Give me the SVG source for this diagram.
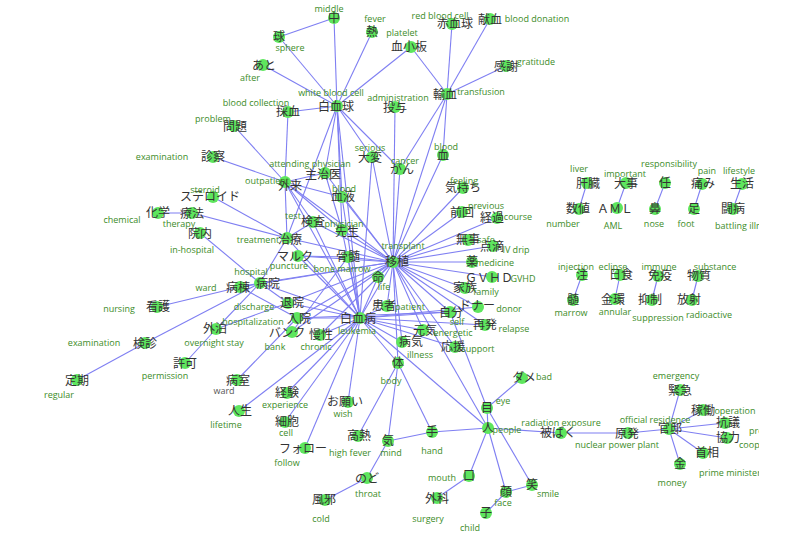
<svg xmlns="http://www.w3.org/2000/svg" width="800" height="540" viewBox="0 0 800 540">
<style>
.e line{stroke:#7f7ff2;stroke-width:1.1}
.n circle{fill:#5ee65e}
.j{font-family:"Noto Sans CJK JP","Noto Sans CJK SC",sans-serif;font-size:12px;fill:#333;text-anchor:middle}
.l{font-family:"Open Sans","Liberation Sans",sans-serif;font-size:9px;fill:#3c8c28;text-anchor:middle}
.s{text-anchor:start}
.g{fill:#555}
</style>
<defs><clipPath id="cp"><rect x="0" y="0" width="759" height="540"/></clipPath></defs>
<rect width="800" height="540" fill="#fff"/>
<g clip-path="url(#cp)">
<g id="edges" class="e">
<line x1="334" y1="18" x2="279" y2="37"/>
<line x1="334" y1="18" x2="337" y2="106"/>
<line x1="279" y1="37" x2="337" y2="106"/>
<line x1="263" y1="65" x2="337" y2="106"/>
<line x1="372" y1="32" x2="337" y2="106"/>
<line x1="411" y1="47" x2="337" y2="106"/>
<line x1="411" y1="47" x2="447" y2="94"/>
<line x1="452" y1="24" x2="447" y2="94"/>
<line x1="490" y1="19" x2="447" y2="94"/>
<line x1="506" y1="66" x2="447" y2="94"/>
<line x1="288" y1="112" x2="337" y2="106"/>
<line x1="288" y1="112" x2="285" y2="182"/>
<line x1="234" y1="126" x2="285" y2="182"/>
<line x1="213" y1="157" x2="285" y2="182"/>
<line x1="337" y1="106" x2="325" y2="173"/>
<line x1="337" y1="106" x2="287" y2="238"/>
<line x1="337" y1="106" x2="342" y2="197"/>
<line x1="337" y1="106" x2="342" y2="230"/>
<line x1="337" y1="106" x2="372" y2="157"/>
<line x1="337" y1="106" x2="400" y2="169"/>
<line x1="337" y1="106" x2="360" y2="318"/>
<line x1="447" y1="94" x2="443" y2="155"/>
<line x1="447" y1="94" x2="400" y2="169"/>
<line x1="447" y1="94" x2="393" y2="262"/>
<line x1="443" y1="155" x2="393" y2="262"/>
<line x1="395" y1="107" x2="393" y2="262"/>
<line x1="372" y1="157" x2="393" y2="262"/>
<line x1="372" y1="157" x2="360" y2="318"/>
<line x1="400" y1="169" x2="393" y2="262"/>
<line x1="325" y1="173" x2="393" y2="262"/>
<line x1="325" y1="173" x2="342" y2="230"/>
<line x1="285" y1="182" x2="325" y2="173"/>
<line x1="285" y1="182" x2="342" y2="197"/>
<line x1="285" y1="182" x2="313" y2="222"/>
<line x1="285" y1="182" x2="287" y2="238"/>
<line x1="285" y1="182" x2="342" y2="230"/>
<line x1="285" y1="182" x2="393" y2="262"/>
<line x1="285" y1="182" x2="360" y2="318"/>
<line x1="342" y1="197" x2="393" y2="262"/>
<line x1="342" y1="197" x2="360" y2="318"/>
<line x1="313" y1="222" x2="393" y2="262"/>
<line x1="313" y1="222" x2="360" y2="318"/>
<line x1="313" y1="222" x2="287" y2="238"/>
<line x1="342" y1="230" x2="393" y2="262"/>
<line x1="342" y1="230" x2="360" y2="318"/>
<line x1="213" y1="197" x2="287" y2="238"/>
<line x1="158" y1="213" x2="192" y2="213"/>
<line x1="192" y1="213" x2="287" y2="238"/>
<line x1="200" y1="233" x2="260" y2="283"/>
<line x1="287" y1="238" x2="393" y2="262"/>
<line x1="287" y1="238" x2="360" y2="318"/>
<line x1="287" y1="238" x2="260" y2="283"/>
<line x1="298" y1="256" x2="348" y2="257"/>
<line x1="298" y1="256" x2="393" y2="262"/>
<line x1="298" y1="256" x2="360" y2="318"/>
<line x1="348" y1="257" x2="393" y2="262"/>
<line x1="348" y1="257" x2="360" y2="318"/>
<line x1="348" y1="257" x2="292" y2="332"/>
<line x1="260" y1="283" x2="393" y2="262"/>
<line x1="260" y1="283" x2="360" y2="318"/>
<line x1="260" y1="283" x2="240" y2="287"/>
<line x1="260" y1="283" x2="288" y2="303"/>
<line x1="240" y1="287" x2="157" y2="307"/>
<line x1="240" y1="287" x2="297" y2="318"/>
<line x1="240" y1="287" x2="393" y2="262"/>
<line x1="145" y1="343" x2="260" y2="283"/>
<line x1="77" y1="380" x2="145" y2="343"/>
<line x1="185" y1="363" x2="216" y2="329"/>
<line x1="216" y1="329" x2="288" y2="303"/>
<line x1="216" y1="329" x2="260" y2="283"/>
<line x1="288" y1="303" x2="360" y2="318"/>
<line x1="288" y1="303" x2="393" y2="262"/>
<line x1="297" y1="318" x2="360" y2="318"/>
<line x1="297" y1="318" x2="393" y2="262"/>
<line x1="297" y1="318" x2="450" y2="312"/>
<line x1="237" y1="380" x2="297" y2="318"/>
<line x1="292" y1="332" x2="393" y2="262"/>
<line x1="320" y1="335" x2="360" y2="318"/>
<line x1="320" y1="335" x2="393" y2="262"/>
<line x1="378" y1="277" x2="393" y2="262"/>
<line x1="378" y1="277" x2="360" y2="318"/>
<line x1="387" y1="306" x2="393" y2="262"/>
<line x1="387" y1="306" x2="360" y2="318"/>
<line x1="360" y1="318" x2="393" y2="262"/>
<line x1="393" y1="262" x2="463" y2="188"/>
<line x1="393" y1="262" x2="462" y2="212"/>
<line x1="393" y1="262" x2="497" y2="218"/>
<line x1="393" y1="262" x2="468" y2="240"/>
<line x1="393" y1="262" x2="493" y2="246"/>
<line x1="393" y1="262" x2="472" y2="262"/>
<line x1="393" y1="262" x2="492" y2="277"/>
<line x1="393" y1="262" x2="465" y2="288"/>
<line x1="393" y1="262" x2="478" y2="307"/>
<line x1="393" y1="262" x2="450" y2="312"/>
<line x1="393" y1="262" x2="485" y2="325"/>
<line x1="393" y1="262" x2="423" y2="330"/>
<line x1="393" y1="262" x2="402" y2="342"/>
<line x1="393" y1="262" x2="455" y2="347"/>
<line x1="393" y1="262" x2="398" y2="363"/>
<line x1="393" y1="262" x2="488" y2="428"/>
<line x1="360" y1="318" x2="450" y2="312"/>
<line x1="360" y1="318" x2="478" y2="307"/>
<line x1="360" y1="318" x2="485" y2="325"/>
<line x1="360" y1="318" x2="423" y2="330"/>
<line x1="360" y1="318" x2="402" y2="342"/>
<line x1="360" y1="318" x2="455" y2="347"/>
<line x1="360" y1="318" x2="398" y2="363"/>
<line x1="360" y1="318" x2="488" y2="428"/>
<line x1="450" y1="312" x2="487" y2="408"/>
<line x1="360" y1="318" x2="239" y2="411"/>
<line x1="360" y1="318" x2="287" y2="393"/>
<line x1="360" y1="318" x2="285" y2="422"/>
<line x1="360" y1="318" x2="305" y2="448"/>
<line x1="360" y1="318" x2="348" y2="402"/>
<line x1="398" y1="363" x2="358" y2="436"/>
<line x1="398" y1="363" x2="388" y2="441"/>
<line x1="398" y1="363" x2="432" y2="432"/>
<line x1="388" y1="441" x2="432" y2="432"/>
<line x1="388" y1="441" x2="367" y2="478"/>
<line x1="367" y1="478" x2="325" y2="500"/>
<line x1="432" y1="432" x2="488" y2="428"/>
<line x1="488" y1="428" x2="487" y2="408"/>
<line x1="487" y1="408" x2="522" y2="378"/>
<line x1="487" y1="408" x2="532" y2="485"/>
<line x1="488" y1="428" x2="469" y2="476"/>
<line x1="469" y1="476" x2="437" y2="498"/>
<line x1="488" y1="428" x2="506" y2="492"/>
<line x1="506" y1="492" x2="532" y2="485"/>
<line x1="506" y1="492" x2="486" y2="513"/>
<line x1="488" y1="428" x2="561" y2="433"/>
<line x1="561" y1="433" x2="628" y2="433"/>
<line x1="628" y1="433" x2="669" y2="429"/>
<line x1="669" y1="429" x2="680" y2="390"/>
<line x1="669" y1="429" x2="703" y2="410"/>
<line x1="669" y1="429" x2="725" y2="423"/>
<line x1="669" y1="429" x2="727" y2="438"/>
<line x1="669" y1="429" x2="703" y2="453"/>
<line x1="669" y1="429" x2="680" y2="464"/>
<line x1="587" y1="183" x2="579" y2="209"/>
<line x1="626" y1="183" x2="617" y2="208"/>
<line x1="665" y1="183" x2="655" y2="209"/>
<line x1="702" y1="184" x2="694" y2="209"/>
<line x1="742" y1="184" x2="733" y2="209"/>
<line x1="582" y1="275" x2="573" y2="300"/>
<line x1="620" y1="275" x2="615" y2="299"/>
<line x1="658" y1="276" x2="652" y2="300"/>
<line x1="698" y1="276" x2="692" y2="300"/>
</g>
<g id="nodes" class="n">
<g id="n-naka"><circle cx="334" cy="18" r="6"/><text class="j" x="334" y="22">中</text><text class="l" x="329" y="12">middle</text></g>
<g id="n-netsu"><circle cx="372" cy="32" r="6"/><text class="j" x="372" y="36">熱</text><text class="l" x="375" y="22">fever</text></g>
<g id="n-sekkekkyu"><circle cx="452" cy="24" r="6"/><text class="j" x="455" y="28">赤血球</text><text class="l" x="440" y="19">red blood cell</text></g>
<g id="n-kenketsu"><circle cx="490" cy="19" r="6"/><text class="j" x="490" y="24">献血</text><text class="l" x="537" y="22">blood donation</text></g>
<g id="n-kesshoban"><circle cx="411" cy="47" r="6"/><text class="j" x="409" y="51">血小板</text><text class="l" x="402" y="36">platelet</text></g>
<g id="n-kansha"><circle cx="506" cy="66" r="6"/><text class="j" x="506" y="71">感謝</text><text class="l" x="536" y="65">gratitude</text></g>
<g id="n-yuketsu"><circle cx="447" cy="94" r="6"/><text class="j" x="445" y="99">輸血</text><text class="l" x="481" y="95">transfusion</text></g>
<g id="n-hakkekkyu"><circle cx="337" cy="106" r="6"/><text class="j" x="336" y="111">白血球</text><text class="l" x="331" y="96">white blood cell</text></g>
<g id="n-toyo"><circle cx="395" cy="107" r="6"/><text class="j" x="395" y="112">投与</text><text class="l" x="398" y="101">administration</text></g>
<g id="n-taihen"><circle cx="372" cy="157" r="6"/><text class="j" x="370" y="162">大変</text><text class="l" x="370" y="151">serious</text></g>
<g id="n-gan"><circle cx="400" cy="169" r="6"/><text class="j" x="402" y="174">がん</text><text class="l" x="405" y="164">cancer</text></g>
<g id="n-chi"><circle cx="443" cy="155" r="6"/><text class="j" x="443" y="160">血</text><text class="l" x="446" y="150">blood</text></g>
<g id="n-kyu"><circle cx="279" cy="37" r="6"/><text class="j" x="279" y="41">球</text><text class="l" x="290" y="51">sphere</text></g>
<g id="n-ato"><circle cx="263" cy="65" r="6"/><text class="j" x="264" y="70">あと</text><text class="l" x="250" y="81">after</text></g>
<g id="n-saiketsu"><circle cx="288" cy="112" r="6"/><text class="j" x="288" y="116">採血</text><text class="l" x="256" y="106">blood collection</text></g>
<g id="n-mondai"><circle cx="234" cy="126" r="6"/><text class="j" x="235" y="131">問題</text><text class="l" x="213" y="122">problem</text></g>
<g id="n-shinsatsu"><circle cx="213" cy="157" r="6"/><text class="j" x="213" y="161">診察</text><text class="l" x="162" y="160">examination</text></g>
<g id="n-shujii"><circle cx="325" cy="173" r="6"/><text class="j" x="323" y="179">主治医</text><text class="l" x="310" y="167">attending physician</text></g>
<g id="n-gairai"><circle cx="285" cy="182" r="6"/><text class="j" x="290" y="190">外来</text><text class="l" x="267" y="184">outpatient</text></g>
<g id="n-ketsueki"><circle cx="342" cy="197" r="6"/><text class="j" x="343" y="201">血液</text><text class="l" x="344" y="192">blood</text></g>
<g id="n-steroid"><circle cx="213" cy="197" r="6"/><text class="j" x="210" y="201">ステロイド</text><text class="l" x="205" y="193">steroid</text></g>
<g id="n-kensa"><circle cx="313" cy="222" r="6"/><text class="j" x="313" y="226">検査</text><text class="l" x="293" y="219">test</text></g>
<g id="n-sensei"><circle cx="342" cy="230" r="6"/><text class="j" x="347" y="236">先生</text><text class="l" x="344" y="227">physician</text></g>
<g id="n-kagaku"><circle cx="158" cy="213" r="6"/><text class="j" x="158" y="217">化学</text><text class="l" x="122" y="223">chemical</text></g>
<g id="n-ryoho"><circle cx="192" cy="213" r="6"/><text class="j" x="192" y="218">療法</text><text class="l" x="179" y="227">therapy</text></g>
<g id="n-innai"><circle cx="200" cy="233" r="6"/><text class="j" x="200" y="238">院内</text><text class="l" x="192" y="253">in-hospital</text></g>
<g id="n-chiryo"><circle cx="287" cy="238" r="6"/><text class="j" x="290" y="244">治療</text><text class="l" x="258" y="243">treatment</text></g>
<g id="n-maruku"><circle cx="298" cy="256" r="6"/><text class="j" x="295" y="261">マルク</text><text class="l" x="289" y="269">puncture</text></g>
<g id="n-byoin"><circle cx="260" cy="283" r="6"/><text class="j" x="268" y="288">病院</text><text class="l" x="251" y="275">hospital</text></g>
<g id="n-byoto"><circle cx="240" cy="287" r="6"/><text class="j" x="238" y="292">病棟</text><text class="l" x="206" y="291">ward</text></g>
<g id="n-kango"><circle cx="157" cy="307" r="6"/><text class="j" x="158" y="311">看護</text><text class="l" x="119" y="312">nursing</text></g>
<g id="n-taiin"><circle cx="288" cy="303" r="6"/><text class="j" x="292" y="307">退院</text><text class="l" x="254" y="310">discharge</text></g>
<g id="n-nyuin"><circle cx="297" cy="318" r="6"/><text class="j" x="299" y="323">入院</text><text class="l" x="253" y="325">hospitalization</text></g>
<g id="n-gaihaku"><circle cx="216" cy="329" r="6"/><text class="j" x="215" y="333">外泊</text><text class="l" x="214" y="346">overnight stay</text></g>
<g id="n-banku"><circle cx="292" cy="332" r="6"/><text class="j" x="287" y="337">バンク</text><text class="l" x="275" y="350">bank</text></g>
<g id="n-mansei"><circle cx="320" cy="335" r="6"/><text class="j" x="321" y="339">慢性</text><text class="l" x="316" y="350">chronic</text></g>
<g id="n-kenshin"><circle cx="145" cy="343" r="6"/><text class="j" x="145" y="348">検診</text><text class="l" x="94" y="346">examination</text></g>
<g id="n-kyoka"><circle cx="185" cy="363" r="6"/><text class="j" x="185" y="368">許可</text><text class="l" x="165" y="379">permission</text></g>
<g id="n-teiki"><circle cx="77" cy="380" r="6"/><text class="j" x="77" y="385">定期</text><text class="l" x="59" y="398">regular</text></g>
<g id="n-byoshitsu"><circle cx="237" cy="380" r="6"/><text class="j" x="238" y="385">病室</text><text class="l g" x="224" y="394">ward</text></g>
<g id="n-jinsei"><circle cx="239" cy="411" r="6"/><text class="j" x="240" y="415">人生</text><text class="l" x="226" y="428">lifetime</text></g>
<g id="n-kotsuzui"><circle cx="348" cy="257" r="6"/><text class="j" x="348" y="261">骨髄</text><text class="l" x="342" y="272">bone marrow</text></g>
<g id="n-ishoku"><circle cx="393" cy="262" r="6"/><text class="j" x="397" y="266">移植</text><text class="l" x="403" y="249">transplant</text></g>
<g id="n-inochi"><circle cx="378" cy="277" r="6"/><text class="j" x="378" y="282">命</text><text class="l" x="384" y="290">life</text></g>
<g id="n-hakketsubyo"><circle cx="360" cy="318" r="6"/><text class="j" x="358" y="323">白血病</text><text class="l" x="357" y="334">leukemia</text></g>
<g id="n-kanja"><circle cx="387" cy="306" r="6"/><text class="j" x="384" y="310">患者</text><text class="l" x="410" y="310">patient</text></g>
<g id="n-genki"><circle cx="423" cy="330" r="6"/><text class="j" x="425" y="335">元気</text><text class="l" x="453" y="336">energetic</text></g>
<g id="n-byoki"><circle cx="402" cy="342" r="6"/><text class="j" x="411" y="346">病気</text><text class="l" x="420" y="358">illness</text></g>
<g id="n-oen"><circle cx="455" cy="347" r="6"/><text class="j" x="453" y="351">応援</text><text class="l" x="478" y="352">support</text></g>
<g id="n-karada"><circle cx="398" cy="363" r="6"/><text class="j" x="398" y="367">体</text><text class="l" x="391" y="384">body</text></g>
<g id="n-jibun"><circle cx="450" cy="312" r="6"/><text class="j" x="451" y="317">自分</text><text class="l" x="457" y="325">self</text></g>
<g id="n-donor"><circle cx="478" cy="307" r="6"/><text class="j" x="477" y="310">ドナー</text><text class="l" x="509" y="312">donor</text></g>
<g id="n-saihatsu"><circle cx="485" cy="325" r="6"/><text class="j" x="485" y="329">再発</text><text class="l" x="514" y="332">relapse</text></g>
<g id="n-kazoku"><circle cx="465" cy="288" r="6"/><text class="j" x="465" y="292">家族</text><text class="l" x="486" y="295">family</text></g>
<g id="n-gvhd"><circle cx="492" cy="277" r="6"/><text class="j" x="489" y="282">ＧＶＨＤ</text><text class="l" x="523" y="282">GVHD</text></g>
<g id="n-kusuri"><circle cx="472" cy="262" r="6"/><text class="j" x="472" y="266">薬</text><text class="l" x="495" y="266">medicine</text></g>
<g id="n-buji"><circle cx="468" cy="240" r="6"/><text class="j" x="468" y="244">無事</text><text class="l" x="486" y="243">safe</text></g>
<g id="n-tenteki"><circle cx="493" cy="246" r="6"/><text class="j" x="492" y="251">点滴</text><text class="l" x="516" y="253">IV drip</text></g>
<g id="n-zenkai"><circle cx="462" cy="212" r="6"/><text class="j" x="462" y="217">前回</text><text class="l" x="486" y="209">previous</text></g>
<g id="n-keika"><circle cx="497" cy="218" r="6"/><text class="j" x="492" y="222">経過</text><text class="l" x="518" y="220">course</text></g>
<g id="n-kimochi"><circle cx="463" cy="188" r="6"/><text class="j" x="463" y="192">気持ち</text><text class="l" x="464" y="184">feeling</text></g>
<g id="n-keiken"><circle cx="287" cy="393" r="6"/><text class="j" x="287" y="397">経験</text><text class="l" x="285" y="408">experience</text></g>
<g id="n-saibo"><circle cx="285" cy="422" r="6"/><text class="j" x="287" y="426">細胞</text><text class="l" x="286" y="436">cell</text></g>
<g id="n-onegai"><circle cx="348" cy="402" r="6"/><text class="j" x="345" y="406">お願い</text><text class="l" x="343" y="417">wish</text></g>
<g id="n-follow"><circle cx="305" cy="448" r="6"/><text class="j" x="303" y="453">フォロー</text><text class="l" x="287" y="466">follow</text></g>
<g id="n-konetsu"><circle cx="358" cy="436" r="6"/><text class="j" x="359" y="440">高熱</text><text class="l" x="350" y="456">high fever</text></g>
<g id="n-ki"><circle cx="388" cy="441" r="6"/><text class="j" x="388" y="445">気</text><text class="l" x="391" y="456">mind</text></g>
<g id="n-te"><circle cx="432" cy="432" r="6"/><text class="j" x="432" y="436">手</text><text class="l" x="432" y="454">hand</text></g>
<g id="n-nodo"><circle cx="367" cy="478" r="6"/><text class="j" x="367" y="483">のど</text><text class="l" x="368" y="497">throat</text></g>
<g id="n-kaze"><circle cx="325" cy="500" r="6"/><text class="j" x="324" y="504">風邪</text><text class="l" x="321" y="522">cold</text></g>
<g id="n-kuchi"><circle cx="469" cy="476" r="6"/><text class="j" x="469" y="480">口</text><text class="l" x="442" y="481">mouth</text></g>
<g id="n-geka"><circle cx="437" cy="498" r="6"/><text class="j" x="437" y="503">外科</text><text class="l" x="428" y="522">surgery</text></g>
<g id="n-me"><circle cx="487" cy="408" r="6"/><text class="j" x="487" y="412">目</text><text class="l" x="503" y="404">eye</text></g>
<g id="n-hito"><circle cx="488" cy="428" r="6"/><text class="j" x="488" y="432">人</text><text class="l" x="507" y="433">people</text></g>
<g id="n-kao"><circle cx="506" cy="492" r="6"/><text class="j" x="506" y="496">顔</text><text class="l" x="503" y="506">face</text></g>
<g id="n-warai"><circle cx="532" cy="485" r="6"/><text class="j" x="532" y="489">笑</text><text class="l" x="548" y="497">smile</text></g>
<g id="n-ko"><circle cx="486" cy="513" r="6"/><text class="j" x="486" y="517">子</text><text class="l" x="470" y="531">child</text></g>
<g id="n-dame"><circle cx="522" cy="378" r="6"/><text class="j" x="524" y="382">ダメ</text><text class="l" x="544" y="380">bad</text></g>
<g id="n-hibaku"><circle cx="561" cy="433" r="6"/><text class="j" x="558" y="437">被ばく</text><text class="l" x="561" y="426">radiation exposure</text></g>
<g id="n-genpatsu"><circle cx="628" cy="433" r="6"/><text class="j" x="627" y="438">原発</text><text class="l" x="617" y="448">nuclear power plant</text></g>
<g id="n-kantei"><circle cx="669" cy="429" r="6"/><text class="j" x="670" y="433">官邸</text><text class="l" x="655" y="423">official residence</text></g>
<g id="n-kinkyu"><circle cx="680" cy="390" r="6"/><text class="j" x="680" y="395">緊急</text><text class="l" x="676" y="379">emergency</text></g>
<g id="n-kado"><circle cx="703" cy="410" r="6"/><text class="j" x="703" y="415">稼働</text><text class="l" x="735" y="414">operation</text></g>
<g id="n-kogi"><circle cx="725" cy="423" r="6"/><text class="j" x="728" y="427">抗議</text><text class="l s" x="749" y="434">protest</text></g>
<g id="n-kyoryoku"><circle cx="727" cy="438" r="6"/><text class="j" x="728" y="442">協力</text><text class="l s" x="739" y="448">cooperation</text></g>
<g id="n-shusho"><circle cx="703" cy="453" r="6"/><text class="j" x="707" y="457">首相</text><text class="l s" x="699" y="476">prime minister</text></g>
<g id="n-kane"><circle cx="680" cy="464" r="6"/><text class="j" x="680" y="468">金</text><text class="l" x="672" y="486">money</text></g>
<g id="n-kanzo"><circle cx="587" cy="183" r="6"/><text class="j" x="588" y="188">肝臓</text><text class="l" x="579" y="172">liver</text></g>
<g id="n-suchi"><circle cx="579" cy="209" r="6"/><text class="j" x="578" y="213">数値</text><text class="l" x="563" y="227">number</text></g>
<g id="n-daiji"><circle cx="626" cy="183" r="6"/><text class="j" x="626" y="188">大事</text><text class="l" x="625" y="177">important</text></g>
<g id="n-aml"><circle cx="617" cy="208" r="6"/><text class="j" x="615" y="213">ＡＭＬ</text><text class="l" x="613" y="229">AML</text></g>
<g id="n-nin"><circle cx="665" cy="183" r="6"/><text class="j" x="665" y="187">任</text><text class="l" x="669" y="167">responsibility</text></g>
<g id="n-hana"><circle cx="655" cy="209" r="6"/><text class="j" x="655" y="213">鼻</text><text class="l" x="654" y="227">nose</text></g>
<g id="n-itami"><circle cx="702" cy="184" r="6"/><text class="j" x="703" y="188">痛み</text><text class="l" x="707" y="174">pain</text></g>
<g id="n-ashi"><circle cx="694" cy="209" r="6"/><text class="j" x="694" y="213">足</text><text class="l" x="686" y="227">foot</text></g>
<g id="n-seikatsu"><circle cx="742" cy="184" r="6"/><text class="j" x="742" y="188">生活</text><text class="l" x="739" y="174">lifestyle</text></g>
<g id="n-tobyo"><circle cx="733" cy="209" r="6"/><text class="j" x="733" y="213">闘病</text><text class="l s" x="715" y="229">battling illness</text></g>
<g id="n-chu"><circle cx="582" cy="275" r="6"/><text class="j" x="582" y="279">注</text><text class="l" x="576" y="270">injection</text></g>
<g id="n-zui"><circle cx="573" cy="300" r="6"/><text class="j" x="573" y="304">髄</text><text class="l" x="571" y="316">marrow</text></g>
<g id="n-nisshoku"><circle cx="620" cy="275" r="6"/><text class="j" x="621" y="279">日食</text><text class="l" x="613" y="270">eclipse</text></g>
<g id="n-kinkan"><circle cx="615" cy="299" r="6"/><text class="j" x="613" y="304">金環</text><text class="l" x="615" y="315">annular</text></g>
<g id="n-meneki"><circle cx="658" cy="276" r="6"/><text class="j" x="660" y="280">免疫</text><text class="l" x="659" y="270">immune</text></g>
<g id="n-yokusei"><circle cx="652" cy="300" r="6"/><text class="j" x="650" y="304">抑制</text><text class="l" x="658" y="321">suppression</text></g>
<g id="n-busshitsu"><circle cx="698" cy="276" r="6"/><text class="j" x="699" y="280">物質</text><text class="l" x="715" y="270">substance</text></g>
<g id="n-hosha"><circle cx="692" cy="300" r="6"/><text class="j" x="689" y="304">放射</text><text class="l" x="709" y="318">radioactive</text></g>
</g>
</g>
</svg>
